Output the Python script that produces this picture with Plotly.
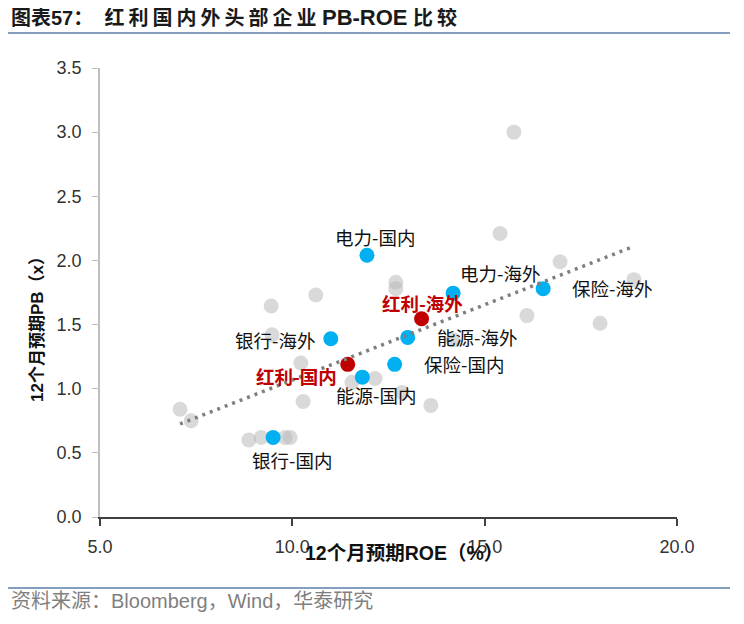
import plotly.graph_objects as go

# ---- data ----
other_roe = [7.08, 7.37, 8.87, 9.19, 9.81, 9.94, 9.45, 9.47, 10.61, 10.22, 10.28,
             11.55, 12.15, 12.69, 12.69, 12.85, 13.6, 14.18, 15.4, 15.76, 16.1,
             16.96, 18.0, 18.88]
other_pb = [0.84, 0.75, 0.60, 0.62, 0.62, 0.62, 1.645, 1.42, 1.73, 1.20, 0.90,
            1.05, 1.08, 1.83, 1.78, 0.97, 0.87, 1.38, 2.21, 3.0, 1.57,
            1.99, 1.51, 1.85]

sector_names = ["电力-国内", "电力-海外", "保险-海外", "能源-海外", "保险-国内",
                "能源-国内", "银行-海外", "银行-国内"]
sector_roe = [11.94, 14.18, 16.52, 13.0, 12.66, 11.82, 11.0, 9.5]
sector_pb = [2.04, 1.745, 1.78, 1.40, 1.19, 1.09, 1.39, 0.62]

div_names = ["红利-海外", "红利-国内"]
div_roe = [13.36, 11.44]
div_pb = [1.545, 1.19]

trend_roe = [7.08, 18.88]
trend_pb = [0.725, 2.11]

x_ticks = [5.0, 10.0, 15.0, 20.0]
y_ticks = [0.0, 0.5, 1.0, 1.5, 2.0, 2.5, 3.0, 3.5]

# label offsets in pixels (style, not data)
sector_offsets = [(8, 18), (47, 20), (69, 1), (69, 0), (69, 0), (14, -18), (-56, -1), (19, -23)]
div_offsets = [(1, 16), (-51, -12)]

CJK = "Noto Sans CJK SC"
MIX = "Liberation Sans, Noto Sans CJK SC, sans-serif"
LAT = "Liberation Sans, Arial, sans-serif"

# page body offset compensation (browser default body margin)
OFF = 8

fig = go.Figure()
fig.add_trace(go.Scatter(x=other_roe, y=other_pb, mode="markers",
                         marker=dict(size=15, color="rgba(186,186,186,0.55)"),
                         hoverinfo="skip", showlegend=False))
fig.add_trace(go.Scatter(x=sector_roe, y=sector_pb, mode="markers",
                         marker=dict(size=15, color="#00B0F0"),
                         showlegend=False))
fig.add_trace(go.Scatter(x=div_roe, y=div_pb, mode="markers",
                         marker=dict(size=15, color="#C00000"),
                         showlegend=False))
fig.add_trace(go.Scatter(x=trend_roe, y=trend_pb, mode="lines",
                         line=dict(color="#7F7F7F", width=3.5, dash="3px,5px"),
                         hoverinfo="skip", showlegend=False))

annotations = []
for n, x, y, (dx, dy) in zip(sector_names, sector_roe, sector_pb, sector_offsets):
    annotations.append(dict(x=x, y=y, xref="x", yref="y", text=n, showarrow=False,
                            xshift=dx, yshift=dy,
                            font=dict(family=CJK, size=18.5, color="#111111")))
for n, x, y, (dx, dy) in zip(div_names, div_roe, div_pb, div_offsets):
    annotations.append(dict(x=x, y=y, xref="x", yref="y", text="<b>" + n + "</b>",
                            showarrow=False, xshift=dx, yshift=dy,
                            font=dict(family=CJK, size=18.5, color="#C00000")))

W, H = 744, 624
L, R, T, B = 100 - OFF, 67 + OFF, 68 - OFF, 107 + OFF
pw, ph = W - L - R, H - T - B


def px2paper_x(px):
    return (px - OFF - L) / pw


def px2paper_y(py):
    return (H - B - (py - OFF)) / ph


thin = "\u2009"
title_mid = thin.join("红利国内外头部企业")
title = ("<b>图表57：</b>  <b>" + title_mid +
         " <span style='font-family:Liberation Sans;font-size:22px'>PB-ROE</span> " +
         thin.join("比较") + "</b>")
annotations.append(dict(xref="paper", yref="paper", x=px2paper_x(9), y=px2paper_y(18),
                        xanchor="left", yanchor="middle", showarrow=False,
                        text=title,
                        font=dict(family=MIX, size=20, color="#1A1A1A")))
annotations.append(dict(xref="paper", yref="paper", x=px2paper_x(404), y=px2paper_y(553),
                        xanchor="center", yanchor="middle", showarrow=False,
                        text="<b>12个月预期ROE（%）</b>",
                        font=dict(family=MIX, size=19.5, color="#111111")))
annotations.append(dict(xref="paper", yref="paper", x=px2paper_x(37), y=px2paper_y(325),
                        xanchor="center", yanchor="middle", showarrow=False, textangle=-90,
                        text="<b>12个月预期PB（x）</b>",
                        font=dict(family=MIX, size=17, color="#111111")))
annotations.append(dict(xref="paper", yref="paper", x=px2paper_x(9), y=px2paper_y(601),
                        xanchor="left", yanchor="middle", showarrow=False,
                        text="资料来源：Bloomberg，Wind，华泰研究",
                        font=dict(family=MIX, size=20, color="#7F7F7F")))

shapes = [
    dict(type="line", xref="paper", yref="paper", x0=px2paper_x(8), x1=px2paper_x(730),
         y0=px2paper_y(33), y1=px2paper_y(33), line=dict(color="#5B7FA8", width=1.5)),
    dict(type="line", xref="paper", yref="paper", x0=px2paper_x(8), x1=px2paper_x(730),
         y0=px2paper_y(588), y1=px2paper_y(588), line=dict(color="#5B7FA8", width=1.5)),
]

fig.update_layout(
    width=W, height=H,
    margin=dict(l=L, r=R, t=T, b=B),
    plot_bgcolor="white", paper_bgcolor="white",
    annotations=annotations, shapes=shapes,
    xaxis=dict(range=[5, 20], tickvals=x_ticks, ticktext=[f"{v:.1f}" for v in x_ticks],
               showgrid=False, zeroline=False, showline=True, linecolor="#404040",
               linewidth=2, ticks="outside", ticklen=7, tickcolor="#404040", tickwidth=1.5,
               ticklabelstandoff=5,
               tickfont=dict(family=LAT, size=18, color="#333333")),
    yaxis=dict(range=[0, 3.5], tickvals=y_ticks, ticktext=[f"{v:.1f}" for v in y_ticks],
               showgrid=False, zeroline=False, showline=True, linecolor="#BFBFBF",
               linewidth=1.5, ticks="outside", ticklen=6, tickcolor="#BFBFBF",
               ticklabelstandoff=7,
               tickfont=dict(family=LAT, size=18, color="#333333")),
)

fig.write_html("out.html")
